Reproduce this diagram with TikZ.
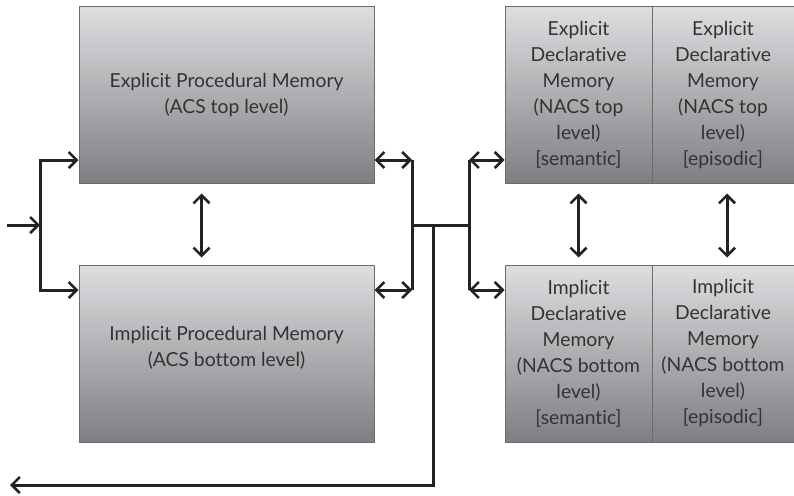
\documentclass[tikz,border=0pt]{standalone}
\usepackage{fontspec}
\setmainfont{Lato}[Ligatures={NoCommon,NoRare}]
\usetikzlibrary{arrows.meta}
\usetikzlibrary{positioning}
\definecolor{boxtop}{HTML}{DDDEE0}
\definecolor{boxbot}{HTML}{7E7F82}
\definecolor{boxline}{HTML}{6C6C6E}
\definecolor{inkline}{HTML}{232323}
\definecolor{inktext}{HTML}{333333}
\tikzset{
  membox/.style={draw=boxline,line width=1pt,top color=boxtop,bottom color=boxbot,
    text=inktext,align=center,inner sep=2pt,font=\fontsize{19.3}{26}\selectfont},
  link/.style={draw=inkline,line width=3pt,line join=miter,
    arrows={-Straight Barb[length=8pt,width=16pt,line width=2.6pt]}},
  bilink/.style={link,arrows={Straight Barb[length=8pt,width=16pt,line width=2.6pt]-Straight Barb[length=8pt,width=16pt,line width=2.6pt]}},
  bus/.style={draw=inkline,line width=3pt,line join=miter}
}
\begin{document}
\begin{tikzpicture}[x=1pt,y=-1pt]
\useasboundingbox (0,0) rectangle (794,495);

% procedural memory (ACS)
\node[membox,minimum width=295pt,minimum height=176pt] (epm) at (226.5,95)
  {\mbox{}\\[-12pt]Explicit Procedural Memory\\(ACS top level)};
\node[membox,minimum width=295pt,minimum height=177pt] (ipm) at (226.5,353.5)
  {Implicit Procedural Memory\\(ACS bottom level)\\[-12pt]\mbox{}};

% declarative memory (NACS)
\node[membox,minimum width=147pt,minimum height=176pt] (eds) at (578.5,95)
  {Explicit\\Declarative\\Memory\\(NACS top\\level)\\{[semantic]}};
\node[membox,minimum width=142pt,minimum height=176pt] (ede) at (723,95)
  {Explicit\\Declarative\\Memory\\(NACS top\\level)\\{[episodic]}};
\node[membox,minimum width=147pt,minimum height=177pt] (ids) at (578.5,353.5)
  {Implicit\\Declarative\\Memory\\(NACS bottom\\level)\\{[semantic]}};
\node[membox,minimum width=142pt,minimum height=177pt] (ide) at (723,353.5)
  {Implicit\\Declarative\\Memory\\(NACS bottom\\level)\\{[episodic]}};

% input side
\coordinate (src) at (7,225);
\coordinate (fork) at (40,225);
\coordinate (forkT) at (40,160);
\coordinate (forkB) at (40,290);
\draw[link] (src) -- (fork);
\draw[bilink] (epm.west |- forkT) -- (forkT) -- (forkB) -- (ipm.west |- forkB);

% hubs between the two groups
\coordinate (hubAT) at (412,160);
\coordinate (hubAB) at (412,290);
\coordinate (hubBT) at (469,160);
\coordinate (hubBB) at (469,290);
\coordinate (hubA) at (412,225);
\coordinate (hubB) at (469,225);
\coordinate (drop) at (433,225);
\coordinate (dropB) at (433,485);
\coordinate (out) at (10,485);
\draw[bilink] (epm.east |- hubAT) -- (hubAT);
\draw[bilink] (ipm.east |- hubAB) -- (hubAB);
\draw[bilink] (hubBT) -- (eds.west |- hubBT);
\draw[bilink] (hubBB) -- (ids.west |- hubBB);
\draw[bus] (hubAT) -- (hubAB);
\draw[bus] (hubBT) -- (hubBB);
\draw[bus] (hubA) -- (hubB);

% output
\draw[link] (drop) -- (dropB) -- (out);

% top/bottom level links
\draw[bilink] ([shift={(-25pt,-10pt)}]epm.south) -- ([shift={(-25pt,7pt)}]ipm.north);
\draw[bilink] ([yshift=-10pt]eds.south) -- ([yshift=7pt]ids.north);
\draw[bilink] ([shift={(4pt,-10pt)}]ede.south) -- ([shift={(4pt,7pt)}]ide.north);
\end{tikzpicture}
\end{document}
